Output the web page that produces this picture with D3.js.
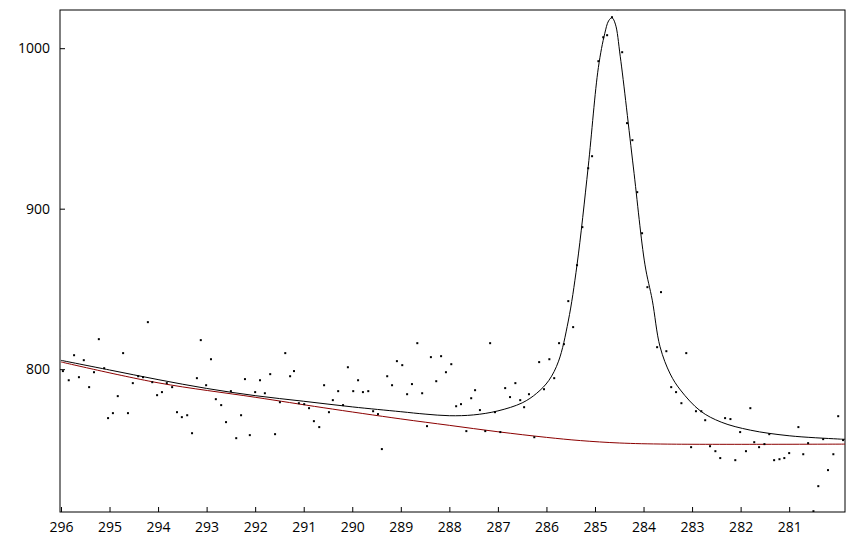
<!DOCTYPE html>
<html><head><meta charset="utf-8">
<script src="https://cdn.jsdelivr.net/npm/d3@7"></script>
<style>body{margin:0;background:#fff}text{font-family:"Open Sans",sans-serif;font-size:14px;fill:#000}</style>
</head><body><svg id="c" width="853" height="540"></svg>
<script>
const be = [296.04,295.96,295.84,295.73,295.63,295.53,295.42,295.32,295.22,295.11,295.03,294.93,294.83,294.72,294.62,294.52,294.41,294.31,294.21,294.12,294.02,293.92,293.82,293.71,293.61,293.51,293.40,293.30,293.20,293.12,293.01,292.91,292.81,292.70,292.60,292.50,292.39,292.29,292.21,292.11,292.00,291.90,291.80,291.69,291.59,291.49,291.38,291.28,291.20,291.10,290.99,290.89,290.79,290.68,290.58,290.48,290.40,290.29,290.19,290.09,289.98,289.88,289.78,289.67,289.57,289.47,289.39,289.28,289.18,289.08,288.97,288.87,288.77,288.66,288.56,288.46,288.38,288.27,288.17,288.07,287.96,287.86,287.76,287.65,287.55,287.47,287.37,287.26,287.16,287.06,286.95,286.85,286.75,286.64,286.54,286.46,286.36,286.25,286.15,286.05,285.94,285.84,285.74,285.64,285.55,285.45,285.37,285.26,285.14,285.06,284.93,284.83,284.75,284.65,284.54,284.44,284.34,284.23,284.13,284.03,283.92,283.72,283.64,283.53,283.43,283.33,283.22,283.12,283.02,282.92,282.81,282.73,282.63,282.52,282.42,282.32,282.21,282.11,282.01,281.89,281.80,281.72,281.62,281.51,281.41,281.31,281.20,281.10,281.00,280.81,280.71,280.61,280.50,280.40,280.30,280.20,280.09,279.99,279.89];
const counts = [820.6,798.8,793.1,808.7,795.0,805.6,788.8,798.1,818.7,800.6,769.5,772.6,783.2,810.0,772.6,791.3,795.6,795.0,829.3,791.9,783.8,785.7,791.3,788.8,773.2,770.1,771.3,760.1,794.4,818.1,790.0,806.2,781.3,777.6,767.0,786.3,757.0,771.3,793.8,758.9,785.7,793.1,785.0,796.9,759.5,779.4,810.0,795.6,798.8,778.8,778.2,775.7,767.6,763.9,790.0,773.2,780.7,786.3,777.6,801.2,786.3,793.1,785.7,786.3,773.8,772.0,750.2,795.6,790.0,805.0,802.5,784.4,790.7,816.2,785.0,764.5,807.5,792.5,808.1,798.1,803.1,776.9,778.2,761.4,781.9,786.9,774.5,761.4,816.2,773.2,760.8,788.2,782.6,791.3,780.7,776.3,784.4,757.6,804.4,787.5,806.2,794.4,816.2,815.6,842.4,826.2,864.8,888.5,925.2,932.7,991.9,1006.8,1008.1,1019.3,1024.3,997.5,953.3,942.7,910.3,884.7,851.1,813.7,848.0,811.2,788.8,785.7,778.8,810.0,751.4,773.8,773.8,768.2,752.0,748.9,744.6,769.5,768.9,743.3,760.8,748.9,775.7,754.5,751.4,753.3,759.5,743.3,743.9,744.6,747.7,763.9,747.0,753.9,711.5,727.1,756.4,737.1,747.0,770.7,755.8];
const envX = [296,295,294,293,292,291,290,289,288.5,288,287.5,287,286.5,286.2,285.95,285.75,285.55,285.37,285.14,284.93,284.8,284.72,284.65,284.58,284.48,284.21,283.97,283.82,283.66,283.45,283.24,282.83,282.4,281.8,281,280,279.85];
const envY = [805.5,799.5,793.5,788,783.5,780,776.5,773.5,772,771,771.5,774,779,785,793,805,830,865,926,988,1009,1017,1019,1015,995,926,865,843,814,797,787,774,767,762,758.5,756.5,756.3];
const bgX = [296,294,292,290.6,289,288,287,286,285.3,284.5,283.5,279.85];
const bgY = [804.5,791.5,782.5,776,769,765,761,757.5,755.5,754,753.3,753.3];
const xTicks = [296,295,294,293,292,291,290,289,288,287,286,285,284,283,282,281];
const yTicks = [800,900,1000];

const svg = d3.select("#c");
const L=60,R=845,T=10,B=512;
const x = d3.scaleLinear().domain([296.02,279.85]).range([L,R]);
const y = d3.scaleLinear().domain([711,1023.8]).range([B,T]);
const g = svg.append("g");
g.append("rect").attr("x",L).attr("y",T).attr("width",R-L).attr("height",B-T).attr("fill","none").attr("stroke","#000");
const xa = g.append("g").attr("transform",`translate(0,${B})`).call(d3.axisBottom(x).tickValues(xTicks).tickSize(-5).tickPadding(10).tickFormat(d3.format("d")));
const ya = g.append("g").attr("transform",`translate(${L},0)`).call(d3.axisLeft(y).tickValues(yTicks).tickSize(-5).tickPadding(10).tickFormat(d3.format("d")));
[xa,ya].forEach(a=>{a.select(".domain").remove();a.selectAll("text").style("font-family","'Open Sans',sans-serif").style("font-size","14px");});
svg.append("clipPath").attr("id","cl").append("rect").attr("x",L).attr("y",T).attr("width",R-L).attr("height",B-T);
const pg = svg.append("g").attr("clip-path","url(#cl)");
const line = d3.line().curve(d3.curveCatmullRom.alpha(0.5));
pg.append("path").attr("d",line(bgX.map((v,i)=>[x(v),y(bgY[i])]).sort((a,b)=>a[0]-b[0]))).attr("fill","none").attr("stroke","#8b0000").attr("stroke-width",1);
pg.append("path").attr("d",line(envX.map((v,i)=>[x(v),y(envY[i])]).sort((a,b)=>a[0]-b[0]))).attr("fill","none").attr("stroke","#000").attr("stroke-width",1);
pg.selectAll("rect.p").data(be).join("rect").attr("class","p").attr("x",d=>x(d)-1).attr("y",(d,i)=>y(counts[i])-1).attr("width",2).attr("height",2).attr("fill","#000");
</script></body></html>
